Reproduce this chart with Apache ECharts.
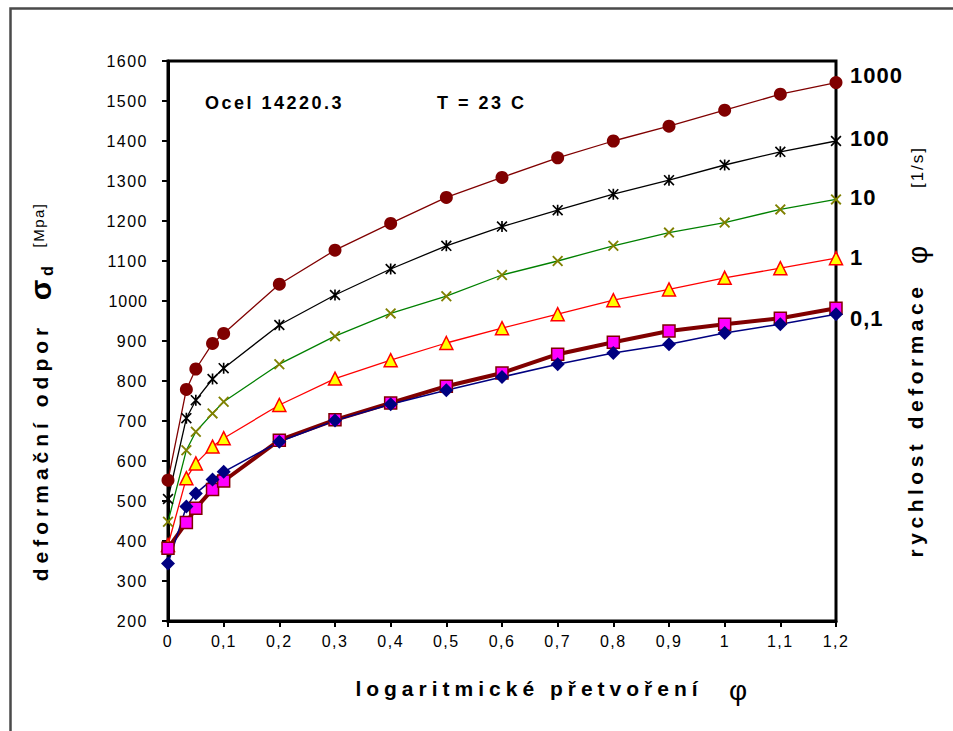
<!DOCTYPE html>
<html><head><meta charset="utf-8">
<script src="https://cdn.jsdelivr.net/npm/echarts@6/dist/echarts.min.js"></script>
<style>html,body{margin:0;padding:0;background:#fff}#main{width:953px;height:731px}</style>
</head><body><div id="main"></div>
<script>
// ---- data ----
const strainX = [0, 0.033, 0.05, 0.08, 0.1, 0.2, 0.3, 0.4, 0.5, 0.6, 0.7, 0.8, 0.9, 1.0, 1.1, 1.2];
const rate1000 = [552, 779, 830, 894, 919, 1042, 1127, 1194, 1259, 1309, 1358, 1400, 1437, 1477, 1517, 1546];
const rate100 = [505, 707, 752, 805, 832, 940, 1015, 1080, 1138, 1186, 1227, 1267, 1302, 1340, 1373, 1400];
const rate10 = [448, 627, 673, 719, 748, 842, 912, 969, 1012, 1065, 1100, 1138, 1171, 1196, 1229, 1254];
const rate1 = [390, 557, 594, 636, 657, 740, 806, 852, 895, 932, 967, 1002, 1029, 1058, 1082, 1107];
const rate01a = [382, 446, 482, 529, 550, 652, 703, 745, 787, 820, 867, 897, 925, 942, 957, 982];
const rate01b = [344, 486, 519, 554, 573, 648, 701, 742, 777, 810, 842, 870, 892, 920, 942, 967];
const rateLabels = ['1000', '100', '10', '1', '0,1'];
const yMin = 200, yMax = 1600, yStep = 100;
const xMin = 0, xMax = 1.2, xStep = 0.1;

const FF = 'Liberation Sans';
const pts = ys => strainX.map((x, i) => [x, ys[i]]);
const STAR = 'path://M8.5,0L11.5,0L11.5,20L8.5,20Z M2.1,0L20,17.9L17.9,20L0,2.1Z M17.9,0L20,2.1L2.1,20L0,17.9Z';
const CROSS = 'path://M2.4,0L20,17.6L17.6,20L0,2.4Z M17.6,0L20,2.4L2.4,20L0,17.6Z';

function endLbl(text, dy) {
  return { show: true, formatter: text, distance: 14, offset: [0, dy], color: '#000',
    fontFamily: FF, fontWeight: 'bold', fontSize: 22 };
}
function txt(x, y, text, font, rot, align) {
  const el = { type: 'text', x: x, y: y, style: { text: text, fill: '#000', font: font + ' ' + FF,
    textAlign: align || 'center', textVerticalAlign: 'middle', align: align || 'center', verticalAlign: 'middle' } };
  if (rot) el.rotation = Math.PI / 2;
  return el;
}

const chart = echarts.init(document.getElementById('main'), null, { renderer: 'svg' });
const option = {
  backgroundColor: '#fff',
  animation: false,
  grid: { left: 168, right: 117, top: 61, bottom: 110, show: true, borderColor: '#000', borderWidth: 3, backgroundColor: 'transparent' },
  xAxis: {
    type: 'value', min: xMin, max: xMax, interval: xStep,
    axisLine: { show: true, lineStyle: { color: '#000', width: 3 } },
    axisTick: { show: true, length: 6, lineStyle: { color: '#000', width: 2 } },
    splitLine: { show: false },
    axisLabel: { color: '#000', fontFamily: FF, fontSize: 16, margin: 12,
      formatter: v => String(+(+v).toFixed(1)).replace('.', ',') }
  },
  yAxis: {
    type: 'value', min: yMin, max: yMax, interval: yStep,
    axisLine: { show: true, lineStyle: { color: '#000', width: 3 } },
    axisTick: { show: true, length: 6, lineStyle: { color: '#000', width: 2 } },
    splitLine: { show: false },
    axisLabel: { color: '#000', fontFamily: FF, fontSize: 16, margin: 20, formatter: v => String(v) }
  },
  series: [
    { name: '1000', type: 'line', data: pts(rate1000), clip: false,
      symbol: 'circle', symbolSize: 13, lineStyle: { color: '#800000', width: 1.3 },
      itemStyle: { color: '#800000' }, endLabel: endLbl(rateLabels[0], -7) },
    { name: '100', type: 'line', data: pts(rate100), clip: false,
      symbol: STAR, symbolSize: 11, lineStyle: { color: '#000', width: 1.3 },
      itemStyle: { color: '#000' }, endLabel: endLbl(rateLabels[1], -3) },
    { name: '10', type: 'line', data: pts(rate10), clip: false,
      symbol: CROSS, symbolSize: 11, lineStyle: { color: '#008000', width: 1.3 },
      itemStyle: { color: '#808000' }, endLabel: endLbl(rateLabels[2], -2) },
    { name: '1', type: 'line', data: pts(rate1), clip: false,
      symbol: 'triangle', symbolSize: 13, lineStyle: { color: '#ff0000', width: 1.3 },
      itemStyle: { color: '#ffff00', borderColor: '#ff0000', borderWidth: 1.5 }, endLabel: endLbl(rateLabels[3], -1) },
    { name: '0,1 a', type: 'line', data: pts(rate01a), clip: false,
      symbol: 'rect', symbolSize: 12, lineStyle: { color: '#800000', width: 4 },
      itemStyle: { color: '#ff00ff', borderColor: '#800000', borderWidth: 1.5 } },
    { name: '0,1 b', type: 'line', data: pts(rate01b), clip: false,
      symbol: 'diamond', symbolSize: 14, lineStyle: { color: '#000080', width: 1.5 },
      itemStyle: { color: '#000080' }, endLabel: endLbl(rateLabels[4], 4) }
  ],
  graphic: [
    { type: 'polyline', shape: { points: [[10.5, 731], [10.5, 8.5], [953, 8.5]] },
      style: { stroke: '#4a4a4a', lineWidth: 2.5, fill: null } },
    txt(205, 103, 'Ocel 14220.3', 'bold 18px', false, 'left'),
    txt(437, 103, 'T = 23 C', 'bold 18px', false, 'left'),
    // x axis title
    txt(529, 688, 'logaritmické přetvoření', 'bold 21px'),
    txt(738, 690, 'φ', '28px'),
    // left axis title
    txt(40, 452, 'deformační odpor', 'bold 21px', true),
    txt(40, 290, 'σ', 'bold 30px', true),
    txt(47, 271, 'd', 'bold 16px', true),
    txt(38, 225, '[Mpa]', '15px', true),
    // right axis title
    txt(915, 420, 'rychlost deformace', 'bold 21px', true),
    txt(917, 255, 'φ', '28px', true),
    txt(917, 167, '[1/s]', '17px', true)
  ]
};
chart.setOption(option);

const spacingByText = {
  'Ocel 14220.3': 2.5, 'T = 23 C': 2.5,
  'logaritmické přetvoření': 5, 'deformační odpor': 5, 'rychlost deformace': 4.5,
  '[Mpa]': 1.5, '[1/s]': 2, '1000': 1, '100': 1, '10': 1, '1': 1, '0,1': 1,
  'φ': 0, 'σ': 0, 'd': 0
};
function applySpacing() {
  document.querySelectorAll('#main text').forEach(t => {
    const s = t.textContent;
    const sp = spacingByText.hasOwnProperty(s) ? spacingByText[s] : 1.5;
    t.style.letterSpacing = sp + 'px';
  });
}
chart.on('finished', applySpacing);
applySpacing();
setTimeout(applySpacing, 50);
</script></body></html>
